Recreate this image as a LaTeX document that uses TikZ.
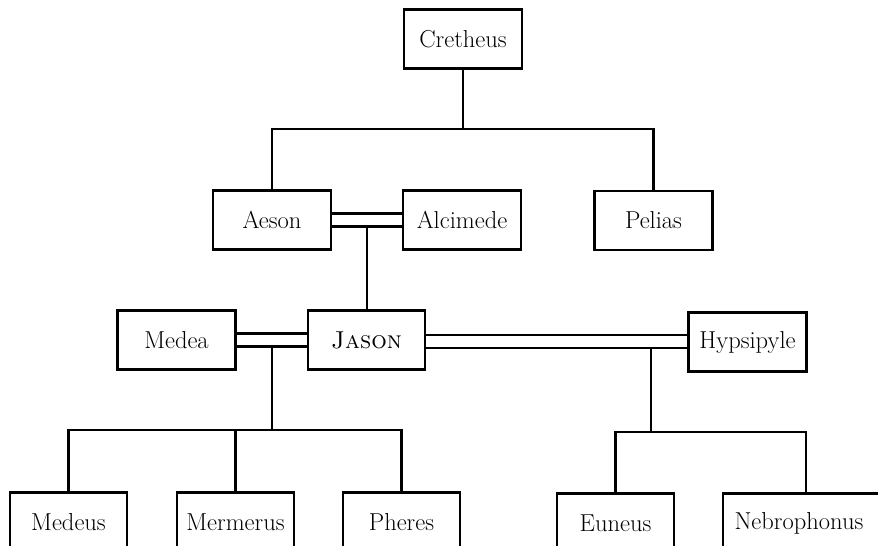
\documentclass[tikz,border=0pt]{standalone}
\begin{document}
\begin{tikzpicture}[x=1pt,y=-1pt,
  person/.style={draw,line width=2.7pt,minimum width=118pt,minimum height=59pt,
    inner sep=0pt,font=\fontsize{24.5}{28}\selectfont},
  link/.style={line width=2.7pt}]
\useasboundingbox (0,0) rectangle (878,546);
\clip (0,0) rectangle (878,546);

% generation 1
\node[person] (cre) at (463,39) {Cretheus};
% generation 2
\node[person] (aes) at (272,220) {Aeson};
\node[person] (alc) at (462,220) {Alcimede};
\node[person] (pel) at (653.5,220.5) {Pelias};
% generation 3
\node[person] (med) at (176.5,340) {Medea};
\node[person,minimum width=117pt] (jas) at (366.5,340) {\textsc{Jason}};
\node[person] (hyp) at (747.5,342) {Hypsipyle};
% generation 4
\node[person,minimum width=117pt] (mds) at (68.5,522) {Medeus};
\node[person,minimum width=117pt] (mer) at (235.5,522) {Mermerus};
\node[person,minimum width=117pt] (phe) at (401.5,522) {Pheres};
\node[person,minimum width=117pt] (eun) at (615.5,523) {Euneus};
\node[person,minimum width=166pt,text width=143pt,align=left] (neb) at (806,523) {Nebrophonus};

% helper coordinates for the bars
\coordinate (bar1) at (0,129);
\coordinate (m1) at (367,226);
\coordinate (m2) at (272,346);
\coordinate (bar2) at (0,430);
\coordinate (h1) at (0,335);
\coordinate (h2) at (0,348);
\coordinate (m3) at (651,348);
\coordinate (bar3) at (0,432);

% Cretheus to his sons
\draw[link] (cre.south) -- (cre.south |- bar1);
\draw[link] (aes.north) -- (aes.north |- bar1) -- (pel.north |- bar1) -- (pel.north);

% Aeson = Alcimede
\draw[link] ([yshift=6.5pt]aes.east) -- ([yshift=6.5pt]alc.west);
\draw[link] ([yshift=-6.5pt]aes.east) -- ([yshift=-6.5pt]alc.west);
\draw[link] (m1) -- (m1 |- jas.north);

% Medea = Jason
\draw[link] ([yshift=6.5pt]med.east) -- ([yshift=6.5pt]jas.west);
\draw[link] ([yshift=-6.5pt]med.east) -- ([yshift=-6.5pt]jas.west);
\draw[link] (m2) -- (m2 |- bar2);
\draw[link] (mds.north) -- (mds.north |- bar2) -- (phe.north |- bar2) -- (phe.north);
\draw[link] (mer.north) -- (mer.north |- bar2);

% Jason = Hypsipyle
\draw[link] (jas.east |- h1) -- (hyp.west |- h1);
\draw[link] (jas.east |- h2) -- (hyp.west |- h2);
\draw[link] (m3) -- (m3 |- bar3);
\draw[link] (eun.north) -- (eun.north |- bar3) -- (neb.north |- bar3) -- (neb.north);
\end{tikzpicture}
\end{document}
